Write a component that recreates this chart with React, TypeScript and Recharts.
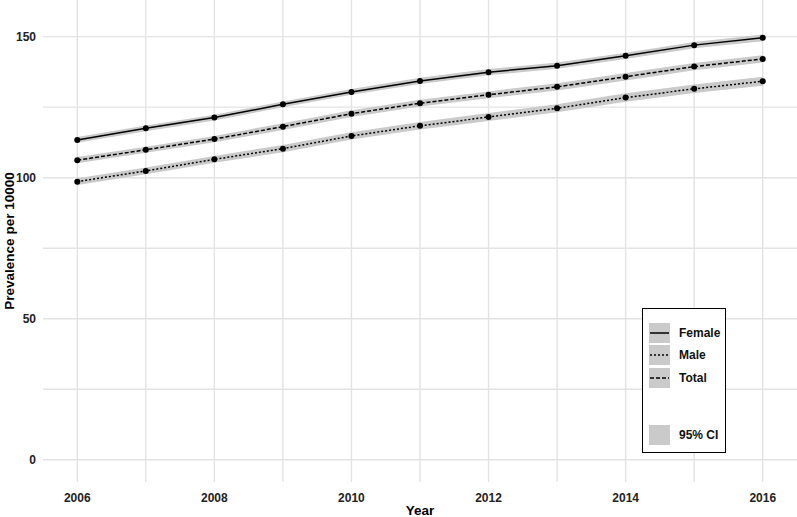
import React from 'react';
import { ComposedChart, Line, Area, XAxis, YAxis, CartesianGrid } from 'recharts';

const years = [2006, 2007, 2008, 2009, 2010, 2011, 2012, 2013, 2014, 2015, 2016];
const female = [113.4, 117.5, 121.3, 126.0, 130.4, 134.3, 137.4, 139.7, 143.2, 147.0, 149.6];
const male = [98.6, 102.4, 106.5, 110.3, 114.8, 118.4, 121.5, 124.6, 128.4, 131.5, 134.2];
const total = [106.2, 109.9, 113.7, 118.1, 122.7, 126.4, 129.4, 132.2, 135.8, 139.4, 142.1];
const femaleLow = [112.4, 116.5, 120.3, 125.0, 129.4, 133.2, 136.3, 138.6, 142.1, 145.9, 148.4];
const femaleHigh = [114.4, 118.5, 122.3, 127.0, 131.4, 135.4, 138.5, 140.8, 144.3, 148.1, 150.8];
const maleLow = [97.4, 101.2, 105.3, 109.0, 113.5, 117.1, 120.1, 123.2, 126.9, 130.0, 132.6];
const maleHigh = [99.8, 103.6, 107.7, 111.6, 116.1, 119.7, 122.9, 126.0, 129.9, 133.0, 135.8];
const totalLow = [105.1, 108.8, 112.6, 116.9, 121.5, 125.2, 128.2, 130.9, 134.5, 138.1, 140.8];
const totalHigh = [107.3, 111.0, 114.8, 119.3, 123.9, 127.6, 130.6, 133.5, 137.1, 140.7, 143.4];

const xTicks = [2006, 2008, 2010, 2012, 2014, 2016];
const yTicks = [0, 50, 100, 150];
const gridX = [2006, 2007, 2008, 2009, 2010, 2011, 2012, 2013, 2014, 2015, 2016];
const gridY = [0, 25, 50, 75, 100, 125, 150];

const data = years.map((year, i) => ({
  year,
  female: female[i],
  male: male[i],
  total: total[i],
  fCI: [femaleLow[i], femaleHigh[i]],
  mCI: [maleLow[i], maleHigh[i]],
  tCI: [totalLow[i], totalHigh[i]],
}));

const FONT = '"Liberation Sans", Arial, sans-serif';
const CI_COLOR = '#cacaca';

const legendItems = [
  { label: 'Female', dash: undefined as string | undefined },
  { label: 'Male', dash: '2 2' },
  { label: 'Total', dash: '4 2' },
];

const LegendBox = () => (
  <div
    style={{
      position: 'absolute',
      left: 642,
      top: 308,
      width: 82,
      height: 143,
      border: '1.5px solid #000',
      background: '#fff',
      fontFamily: FONT,
      fontSize: 12,
      fontWeight: 'bold',
      color: '#111',
      boxSizing: 'content-box',
    }}
  >
    {legendItems.map((it, i) => (
      <div key={it.label} style={{ position: 'absolute', left: 6, top: 14 + i * 22.3, height: 20, display: 'flex', alignItems: 'center' }}>
        <svg width={21} height={20} style={{ display: 'block' }}>
          <rect x={0} y={0} width={21} height={20} fill={CI_COLOR} />
          <line x1={1} y1={10} x2={20} y2={10} stroke="#000" strokeWidth={1.5} strokeDasharray={it.dash} />
        </svg>
        <span style={{ marginLeft: 9 }}>{it.label}</span>
      </div>
    ))}
    <div style={{ position: 'absolute', left: 6, top: 116, height: 20, display: 'flex', alignItems: 'center' }}>
      <svg width={21} height={20} style={{ display: 'block' }}>
        <rect x={0} y={0} width={21} height={20} fill={CI_COLOR} />
      </svg>
      <span style={{ marginLeft: 9 }}>95% CI</span>
    </div>
  </div>
);

const tickStyle = { fontFamily: FONT, fontSize: 12, fontWeight: 'bold' as const, fill: '#222' };

export default function App() {
  return (
    <div style={{ position: 'absolute', left: 0, top: 0, width: 797, height: 517, background: '#fff' }}>
      <ComposedChart width={797} height={517} data={data} margin={{ top: 0, right: 0, bottom: 0, left: 0 }}>
        <CartesianGrid
          stroke="#e3e3e3"
          strokeWidth={1.4}
          horizontalValues={gridY}
          verticalValues={gridX}
        />
        <XAxis
          dataKey="year"
          type="number"
          domain={[2005.5, 2016.5]}
          ticks={xTicks}
          axisLine={false}
          tickLine={false}
          tickMargin={5}
          height={35}
          tick={tickStyle}
          allowDataOverflow
          label={{ value: 'Year', position: 'insideBottom', offset: 2, style: { fontFamily: FONT, fontSize: 13.5, fontWeight: 'bold', fill: '#000' } }}
        />
        <YAxis
          type="number"
          domain={[-7.9, 163]}
          ticks={yTicks}
          axisLine={false}
          tickLine={false}
          tickMargin={1}
          width={43}
          tick={tickStyle}
          allowDataOverflow
          label={{ value: 'Prevalence per 10000', angle: -90, position: 'insideLeft', offset: 0, dx: 9, style: { fontFamily: FONT, fontSize: 13.5, fontWeight: 'bold', fill: '#000', textAnchor: 'middle' } }}
        />
        <Area type="linear" dataKey="fCI" stroke="none" fill={CI_COLOR} fillOpacity={1} isAnimationActive={false} />
        <Area type="linear" dataKey="mCI" stroke="none" fill={CI_COLOR} fillOpacity={1} isAnimationActive={false} />
        <Area type="linear" dataKey="tCI" stroke="none" fill={CI_COLOR} fillOpacity={1} isAnimationActive={false} />
        <Line type="linear" dataKey="female" stroke="#000" strokeWidth={1.5} dot={{ r: 3, fill: '#000', stroke: '#000', strokeWidth: 0 }} isAnimationActive={false} />
        <Line type="linear" dataKey="male" stroke="#000" strokeWidth={1.5} strokeDasharray="2 2" dot={{ r: 3, fill: '#000', stroke: '#000', strokeWidth: 0, strokeDasharray: '0' }} isAnimationActive={false} />
        <Line type="linear" dataKey="total" stroke="#000" strokeWidth={1.5} strokeDasharray="4 2" dot={{ r: 3, fill: '#000', stroke: '#000', strokeWidth: 0, strokeDasharray: '0' }} isAnimationActive={false} />
      </ComposedChart>
      <LegendBox />
    </div>
  );
}
